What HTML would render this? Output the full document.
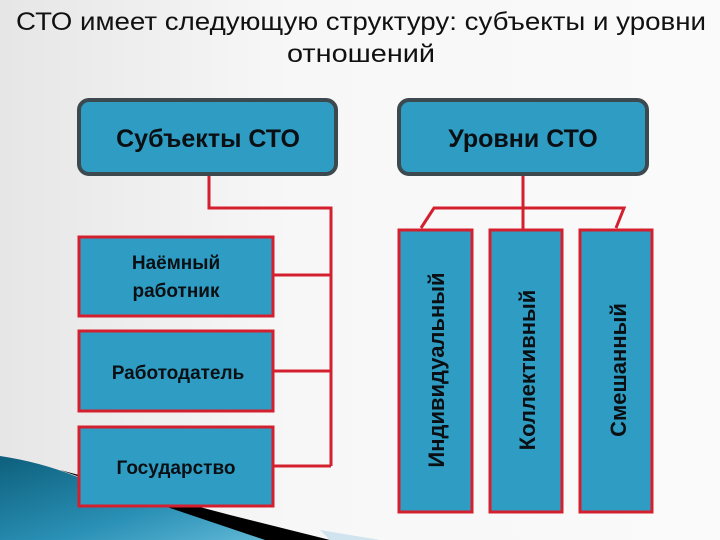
<!DOCTYPE html>
<html><head><meta charset="utf-8"><style>
body{margin:0;width:720px;height:540px;overflow:hidden;background:linear-gradient(90deg,#e6e6e6,#f7f7f7 40%,#fafafa);}
svg{display:block}
</style></head><body>
<svg width="720" height="540" viewBox="0 0 720 540" xmlns="http://www.w3.org/2000/svg">
<defs>
<linearGradient id="bl" x1="0" y1="0" x2="1" y2="1">
<stop offset="0" stop-color="#0d5f7c"/><stop offset="0.6" stop-color="#2a90b5"/><stop offset="1" stop-color="#5fb7d6"/>
</linearGradient>
</defs>
<polygon points="60,470 230,515 330,540 260,540" fill="#000"/>
<polygon points="320,530 330,540 380,540" fill="#cfe4ee"/>
<path d="M0,456 Q40,462 75,476 L265,540 L0,540 Z" fill="url(#bl)"/>
<g font-family="'Liberation Sans Narrow','Liberation Sans',sans-serif" font-size="25" fill="#111" text-anchor="middle">
<text x="361" y="30" textLength="690" lengthAdjust="spacingAndGlyphs">СТО имеет следующую структуру: субъекты и уровни</text>
<text x="361" y="62" textLength="148" lengthAdjust="spacingAndGlyphs">отношений</text>
</g>
<g stroke="#d4202e" stroke-width="3" fill="none">
<polyline points="209,175 209,208 331,208 331,466"/>
<line x1="273" y1="275" x2="331" y2="275"/>
<line x1="273" y1="371" x2="331" y2="371"/>
<line x1="273" y1="466" x2="331" y2="466"/>
<line x1="523" y1="175" x2="523" y2="229"/>
<polyline points="421,228 434,208 624,208 616,228"/>
</g>
<g fill="#2f9dc3" stroke="#3c4a50" stroke-width="4">
<rect x="79" y="100" width="257" height="74" rx="10"/>
<rect x="399" y="100" width="248" height="74" rx="10"/>
</g>
<g fill="#2f9dc3" stroke="#d4202e" stroke-width="3">
<rect x="79" y="237" width="194" height="79"/>
<rect x="79" y="331" width="194" height="80"/>
<rect x="79" y="427" width="194" height="79"/>
<rect x="399" y="230" width="73" height="282"/>
<rect x="490" y="230" width="72" height="282"/>
<rect x="580" y="230" width="72" height="282"/>
</g>
<g font-family="'Liberation Sans',sans-serif" font-weight="bold" fill="#0a0f14" text-anchor="middle">
<text x="208" y="147" font-size="25">Субъекты СТО</text>
<text x="523" y="147" font-size="25">Уровни СТО</text>
<text x="176" y="269" font-size="19">Наёмный</text>
<text x="176" y="297" font-size="19">работник</text>
<text x="178" y="379" font-size="19">Работодатель</text>
<text x="176" y="474" font-size="19">Государство</text>
<text transform="translate(444,370) rotate(-90)" font-size="22">Индивидуальный</text>
<text transform="translate(535,370) rotate(-90)" font-size="22">Коллективный</text>
<text transform="translate(626,370) rotate(-90)" font-size="22">Смешанный</text>
</g>
</svg>
</body></html>
